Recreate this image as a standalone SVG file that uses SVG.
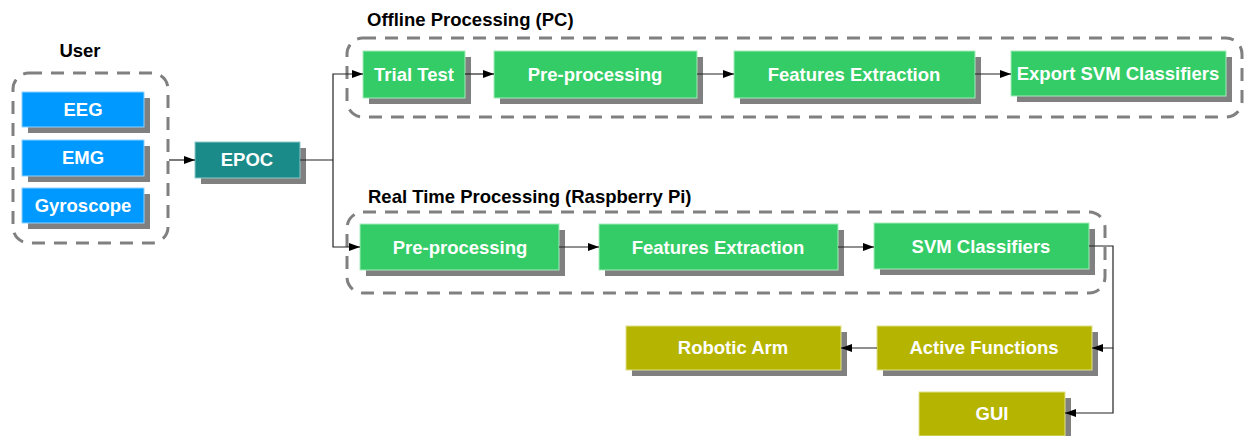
<svg xmlns="http://www.w3.org/2000/svg" width="1245" height="436" viewBox="0 0 1245 436">
<style>
.bg{fill:#ffffff}
.grp{fill:none;stroke:#808080;stroke-width:3;stroke-dasharray:13 9}
.sh{fill:#808080}
.blue{fill:#0099ff;stroke:#8fd3ff;stroke-width:1}
.teal{fill:#1b8b89;stroke:#8cc9c8;stroke-width:1}
.green{fill:#33cc66;stroke:#a5ebbb;stroke-width:1}
.olive{fill:#b5b400;stroke:#e0e08a;stroke-width:1}
.lbl{font-family:"Liberation Sans",Arial,sans-serif;font-weight:bold;font-size:18.5px;fill:#ffffff;text-anchor:middle}
.ttl{font-family:"Liberation Sans",Arial,sans-serif;font-weight:bold;font-size:18.5px;fill:#000000}
.c{fill:none;stroke:#222222;stroke-width:1.2}
</style>
<defs>
<marker id="ah" markerUnits="userSpaceOnUse" markerWidth="11" markerHeight="8" refX="11" refY="4" orient="auto">
<path d="M0,0 L11,4 L0,8 z" fill="#000000"/>
</marker>
</defs>
<rect class="bg" x="0" y="0" width="1245" height="436"/>

<g id="groups">
<text class="ttl" x="80" y="57" text-anchor="middle">User</text>
<rect id="user-group" class="grp" x="13" y="73" width="155" height="170" rx="16"/>
<text class="ttl" x="367" y="26">Offline Processing (PC)</text>
<rect id="offline-group" class="grp" x="347" y="38" width="895" height="79" rx="16"/>
<text class="ttl" x="368" y="203">Real Time Processing (Raspberry Pi)</text>
<rect id="realtime-group" class="grp" x="347" y="212" width="758" height="81" rx="16"/>
</g>

<g id="eeg"><rect class="sh" x="28" y="98" width="122" height="35"/><rect class="blue" x="22" y="92" width="122" height="35"/><text class="lbl" x="83" y="116">EEG</text></g>
<g id="emg"><rect class="sh" x="28" y="146" width="122" height="36"/><rect class="blue" x="22" y="140" width="122" height="36"/><text class="lbl" x="83" y="164">EMG</text></g>
<g id="gyroscope"><rect class="sh" x="28" y="194" width="122" height="35"/><rect class="blue" x="22" y="188" width="122" height="35"/><text class="lbl" x="83" y="212">Gyroscope</text></g>

<g id="epoc"><rect class="sh" x="201" y="148" width="105" height="36"/><rect class="teal" x="195" y="142" width="105" height="36"/><text class="lbl" x="247" y="166">EPOC</text></g>

<g id="trial-test"><rect class="sh" x="369" y="57" width="102" height="47"/><rect class="green" x="363" y="51" width="102" height="47"/><text class="lbl" x="414" y="81">Trial Test</text></g>
<g id="off-preprocessing"><rect class="sh" x="500" y="57" width="203" height="47"/><rect class="green" x="494" y="51" width="203" height="47"/><text class="lbl" x="595" y="81">Pre-processing</text></g>
<g id="off-features"><rect class="sh" x="740" y="57" width="241" height="47"/><rect class="green" x="734" y="51" width="241" height="47"/><text class="lbl" x="854" y="81">Features Extraction</text></g>
<g id="export-svm"><rect class="sh" x="1017" y="57" width="215" height="45"/><rect class="green" x="1011" y="51" width="215" height="45"/><text class="lbl" x="1118" y="80">Export SVM Classifiers</text></g>

<g id="rt-preprocessing"><rect class="sh" x="366" y="230" width="199" height="46"/><rect class="green" x="360" y="224" width="199" height="46"/><text class="lbl" x="460" y="254">Pre-processing</text></g>
<g id="rt-features"><rect class="sh" x="605" y="230" width="239" height="46"/><rect class="green" x="599" y="224" width="239" height="46"/><text class="lbl" x="718" y="254">Features Extraction</text></g>
<g id="svm-classifiers"><rect class="sh" x="880" y="229" width="215" height="46"/><rect class="green" x="874" y="223" width="215" height="46"/><text class="lbl" x="981" y="253">SVM Classifiers</text></g>

<g id="robotic-arm"><rect class="sh" x="632" y="332" width="215" height="44"/><rect class="olive" x="626" y="326" width="215" height="44"/><text class="lbl" x="733" y="354">Robotic Arm</text></g>
<g id="active-functions"><rect class="sh" x="883" y="332" width="215" height="44"/><rect class="olive" x="877" y="326" width="215" height="44"/><text class="lbl" x="984" y="354">Active Functions</text></g>
<g id="gui"><rect class="sh" x="925" y="398" width="146" height="44"/><rect class="olive" x="919" y="392" width="146" height="44"/><text class="lbl" x="992" y="420">GUI</text></g>

<g id="connectors">
<path class="c" d="M169,160 L195,160" marker-end="url(#ah)"/>
<path class="c" d="M300,160 L333,160"/>
<path class="c" d="M333,160 L333,74 L363,74" marker-end="url(#ah)"/>
<path class="c" d="M333,160 L333,247 L360,247" marker-end="url(#ah)"/>
<path class="c" d="M465,74 L494,74" marker-end="url(#ah)"/>
<path class="c" d="M697,74 L734,74" marker-end="url(#ah)"/>
<path class="c" d="M975,74 L1011,74" marker-end="url(#ah)"/>
<path class="c" d="M559,247 L599,247" marker-end="url(#ah)"/>
<path class="c" d="M838,247 L874,247" marker-end="url(#ah)"/>
<path class="c" d="M1089,246 L1113,246 L1113,348 L1092,348" marker-end="url(#ah)"/>
<path class="c" d="M1113,348 L1113,413 L1065,413" marker-end="url(#ah)"/>
<path class="c" d="M877,348 L841,348" marker-end="url(#ah)"/>
</g>
</svg>
